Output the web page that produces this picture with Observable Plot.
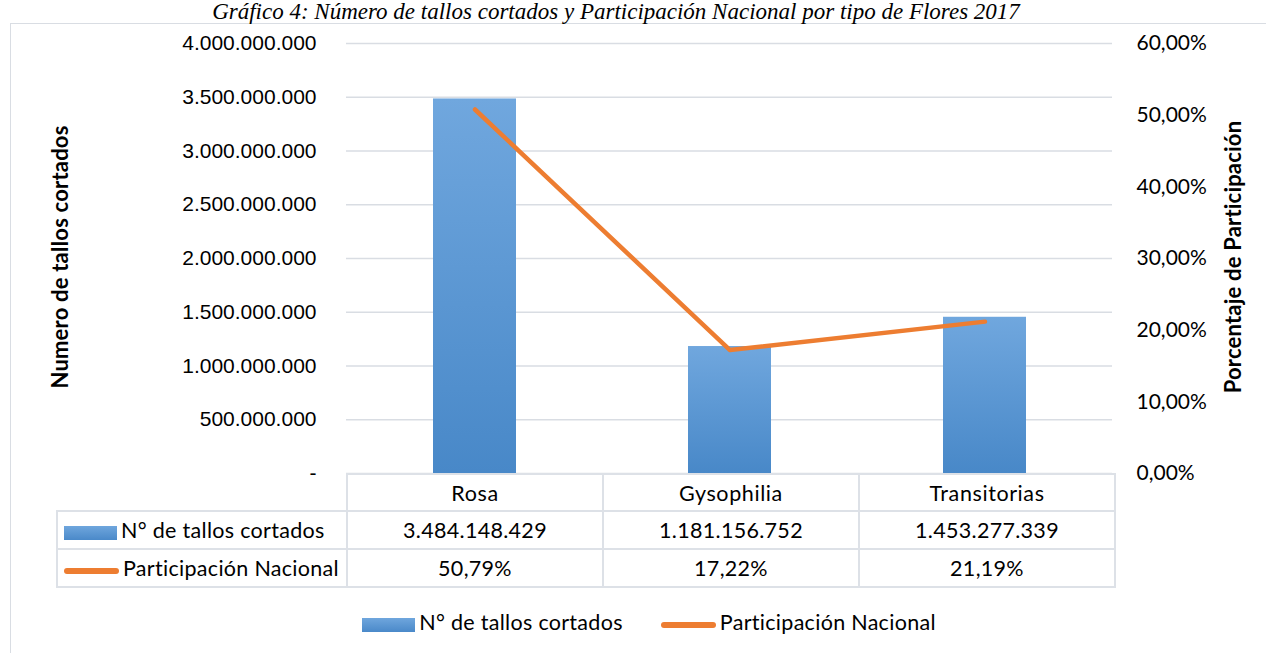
<!DOCTYPE html>
<html><head><meta charset="utf-8">
<script src="https://cdn.jsdelivr.net/npm/d3@7"></script>
<script src="https://cdn.jsdelivr.net/npm/@observablehq/plot@0.6"></script>
<style>
body{margin:0;background:#fff;}
#wrap{position:relative;width:1266px;height:653px;overflow:hidden;background:#fff;font-family:Lato,"Open Sans",sans-serif;color:#000;}
#title{position:absolute;left:0;width:1232px;top:0px;text-align:center;font:italic 23px/23px "Liberation Serif",serif;white-space:nowrap;}
#frame{position:absolute;left:10px;top:23px;width:1400px;height:700px;border:1.5px solid #d9dde3;box-sizing:border-box;}
#chart{position:absolute;left:0;top:0;}
.ytitle{position:absolute;width:320px;height:28px;line-height:28px;text-align:center;font-weight:bold;font-size:22px;letter-spacing:0.2px;transform:rotate(-90deg);white-space:nowrap;}
table{position:absolute;left:56px;top:473px;border-collapse:collapse;font-size:21.5px;table-layout:fixed;width:1058px;}
td{border:2px solid #dde1e7;text-align:center;padding:0;white-space:nowrap;letter-spacing:0.3px;}
tr.h td{height:35px;}
tr.r td{height:36px;}
td.lab{text-align:left;padding-left:6px;}
td.blank{border-top:none;border-left:none;}
.sw{display:inline-block;vertical-align:middle;margin-right:4px;}
.swbar{width:53px;height:14px;background:linear-gradient(#6fa6dd,#4a89c9);}
.swline{width:55px;height:6px;border-radius:3px;background:#ed7d31;}
#legend{position:absolute;top:609px;left:0;width:1298px;text-align:center;font-size:21.5px;letter-spacing:0.3px;white-space:nowrap;}
#legend span.item{display:inline-block;margin:0 19px;}
</style>
</head><body>
<div id="wrap">
  <div id="frame"></div>
  <div id="title">Gráfico 4: Número de tallos cortados y Participación Nacional por tipo de Flores 2017</div>
  <div id="chart"></div>
  <div class="ytitle" id="yl" style="left:-100px;top:243px;">Numero de tallos cortados</div>
  <div class="ytitle" id="yr" style="left:1073px;top:243px;">Porcentaje de Participación</div>
  <table id="tbl"></table>
  <div id="legend"></div>
</div>
<script>
// ---- data ----
const categories = ["Rosa", "Gysophilia", "Transitorias"];
const tallos = [3484148429, 1181156752, 1453277339];
const participacion = [50.79, 17.22, 21.19];
const leftTicks = [0, 500000000, 1000000000, 1500000000, 2000000000, 2500000000, 3000000000, 3500000000, 4000000000];
const rightTicks = [0, 10, 20, 30, 40, 50, 60];
const seriesNames = ["N° de tallos cortados", "Participación Nacional"];

const yMax = 4000000000, pMax = 60;
const toY = p => p / pMax * yMax;
const locale = d3.formatLocale({decimal: ",", thousands: ".", grouping: [3], currency: ["$", ""]});
const fmtInt = locale.format(",d");
const fmtPct = locale.format(",.2f");

const rows = categories.map((c, i) => ({cat: c, tallos: tallos[i], pct: participacion[i]}));

const defs = () => {
  const ns = "http://www.w3.org/2000/svg";
  const d = document.createElementNS(ns, "defs");
  d.innerHTML = `<linearGradient id="barGrad" x1="0" y1="0" x2="0" y2="1">
    <stop offset="0" stop-color="#70a7de"/><stop offset="1" stop-color="#4888c8"/></linearGradient>`;
  return d;
};

const chart = Plot.plot({
  width: 1266,
  height: 500,
  marginTop: 43,
  marginBottom: 27,
  marginLeft: 346,
  marginRight: 154,
  style: {background: "transparent", fontFamily: "Lato, sans-serif"},
  x: {domain: categories, padding: 0, axis: null},
  y: {domain: [0, yMax], axis: null},
  marks: [
    defs,
    Plot.gridY(leftTicks, {stroke: "#d9dde3", strokeOpacity: 1, strokeWidth: 1.5}),
    Plot.barY(rows, {x: "cat", y: "tallos", fill: "url(#barGrad)", insetLeft: 86, insetRight: 86}),
    Plot.line(rows, {x: "cat", y: d => toY(d.pct), stroke: "#ed7d31", strokeWidth: 4.5, strokeLinecap: "round", strokeLinejoin: "round"}),
    Plot.axisY(leftTicks, {anchor: "left", tickSize: 0, tickPadding: 30, tickFormat: v => v === 0 ? "-" : fmtInt(v), fontSize: 21, fontFamily: "Liberation Sans, Arial, sans-serif", label: null, style: {letterSpacing: "0.8px"}}),
    Plot.axisY(rightTicks.map(toY), {anchor: "right", tickSize: 0, tickPadding: 24, tickFormat: v => fmtPct(v / yMax * pMax) + "%", fontSize: 21, label: null})
  ]
});
document.getElementById("chart").appendChild(chart);

// table
const tbl = document.getElementById("tbl");
let html = `<colgroup><col style="width:290px"><col style="width:256px"><col style="width:256px"><col style="width:256px"></colgroup>`;
html += `<tr class="h"><td class="blank"></td>${categories.map(c => `<td style="letter-spacing:0.6px">${c}</td>`).join("")}</tr>`;
html += `<tr class="r"><td class="lab"><span class="sw swbar"></span>${seriesNames[0]}</td>${tallos.map(v => `<td>${fmtInt(v)}</td>`).join("")}</tr>`;
html += `<tr class="r"><td class="lab"><span class="sw swline"></span>${seriesNames[1]}</td>${participacion.map(v => `<td>${fmtPct(v)}%</td>`).join("")}</tr>`;
tbl.innerHTML = html;

// legend
document.getElementById("legend").innerHTML =
  `<span class="item"><span class="sw swbar"></span>${seriesNames[0]}</span>` +
  `<span class="item"><span class="sw swline"></span>${seriesNames[1]}</span>`;
</script>
</body></html>
